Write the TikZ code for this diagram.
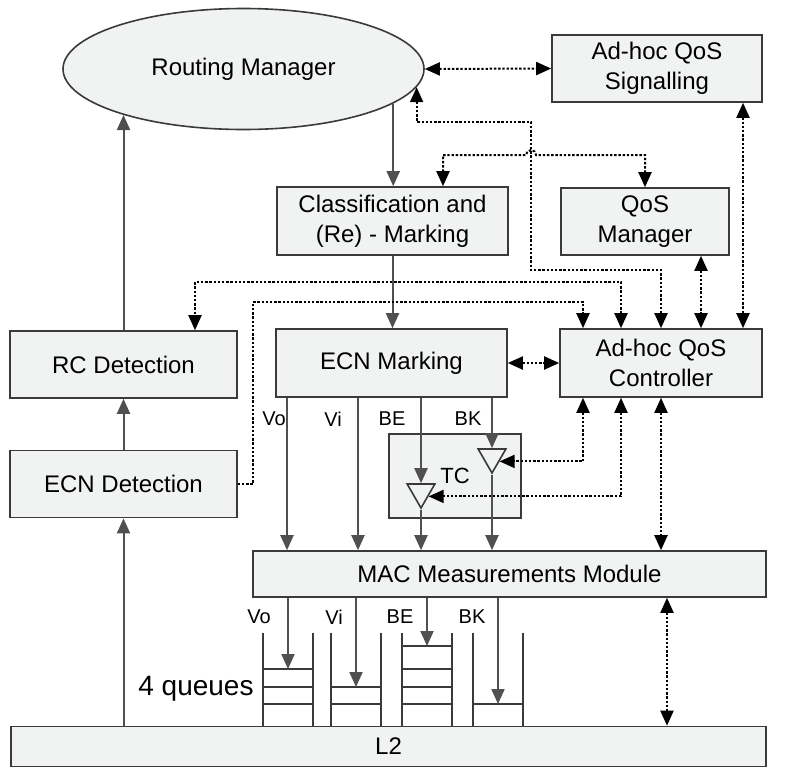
\documentclass[tikz,border=0pt]{standalone}
\usepackage{fontspec}
\setmainfont{Liberation Sans}
\usepackage{tikz}
\usetikzlibrary{positioning}
\usetikzlibrary{shapes.geometric}
\usetikzlibrary{arrows.meta}
\definecolor{boxgray}{HTML}{F1F2F2}
\definecolor{linegray}{HTML}{3A3A3A}
\definecolor{flowgray}{HTML}{505050}
\tikzstyle{block} = [rectangle, minimum height=67pt, text centered, align=center, draw=linegray, fill=boxgray, line width=1.6, inner sep=0pt, font=\fontsize{24}{30}\selectfont]
\tikzstyle{ellipse1} = [ellipse, minimum width=361pt, minimum height=121pt, text centered, draw=linegray, fill=boxgray, line width=1.6, inner sep=0pt, font=\fontsize{24}{30}\selectfont]
\tikzstyle{shaper} = [regular polygon, regular polygon sides=3, shape border rotate=180, minimum size=32pt, inner sep=0pt, draw=linegray, fill=boxgray, line width=1.6]
\tikzstyle{qlabel} = [font=\fontsize{20}{24}\selectfont, inner sep=0pt]
\tikzstyle{flow} = [->, draw=flowgray, line width=2]
\tikzstyle{ctrl} = [draw=black, line width=2, dash pattern=on 2.4pt off 1.8pt]

\begin{document}
\begin{tikzpicture}[x=1pt, y=-1pt, >={Triangle[length=15pt, width=13pt]}]
	\useasboundingbox (0,0) rectangle (800,774);
	\node[ellipse1](routing) at (243.5,69){Routing Manager};
	\node[block, minimum width=210pt](signalling) at (657,68.5){Ad-hoc QoS\\Signalling};
	\node[block, minimum width=231pt, minimum height=68pt](classif) at (392.5,221){Classification and\\(Re) - Marking};
	\node[block, minimum width=168pt](qosman) at (645,221.5){QoS\\Manager};
	\node[block, minimum width=227pt](rcdet) at (123.5,364.5){RC Detection};
	\node[block, minimum width=227pt, below=51pt of rcdet](ecndet){ECN Detection};
	\node[block, minimum width=231pt, minimum height=68pt](ecnmark) at (391.5,363){ECN Marking};
	\node[block, minimum width=202pt, minimum height=68pt](controller) at (661,363){Ad-hoc QoS\\Controller};
	\node[block, minimum width=132pt, minimum height=84pt, font=\fontsize{22}{26}\selectfont](tc) at (455,476){TC};
	\node[shaper](betri) at (421,492){};
	\node[shaper](bktri) at (492,457){};
	\node[block, minimum width=513pt, minimum height=46pt](mac) at (509.5,574){MAC Measurements Module};
	\node[block, minimum width=755pt, minimum height=40pt](l2) at (388.5,746.5){L2};
	\node[font=\fontsize{28}{32}\selectfont, inner sep=0pt](queues) at (196,689){4 queues};

	\foreach \lx/\ltxt in {274/Vo, 333/Vi, 392/BE, 468/BK}
		\node[qlabel](in\ltxt) at (\lx,419){\ltxt};
	\foreach \lx/\ltxt in {259/Vo, 334/Vi, 400/BE, 472/BK}
		\node[qlabel](out\ltxt) at (\lx,617){\ltxt};

	\coordinate (vo) at (287,0);
	\coordinate (vi) at (358,0);
	\coordinate (c1) at (583,0);
	\coordinate (c2) at (621,0);
	\coordinate (c3) at (661,0);
	\coordinate (c4) at (701,0);
	\coordinate (c5) at (743,0);
	\coordinate (c6) at (667,0);
	\coordinate (cm) at (443,0);
	\coordinate (rc) at (195,282);

	\foreach \qx/\qtop/\levels/\n in {263/669/{669,687,704}/vo, 331/687/{687,704}/vi, 402/646/{646,669,687,704}/be, 473/704/{704}/bk}{
		\draw[linegray, line width=1.6] (\qx,633) -- (\qx,727) (\qx+50,633) -- (\qx+50,727);
		\foreach \ly in \levels
			\draw[linegray, line width=1.6] (\qx,\ly) -- (\qx+50,\ly);
		\coordinate (q\n) at (\qx+25,\qtop);
		\draw[flow] (mac.south -| q\n) -- (q\n);
	}

	\draw[flow] (rcdet.north) -- (rcdet.north |- routing.201);
	\draw[flow] (ecndet.north) -- (rcdet.south);
	\draw[flow] (l2.north -| ecndet) -- (ecndet.south);
	\draw[flow] (routing.347) -- (routing.347 |- classif.north);
	\draw[flow] (classif.south) -- (classif.south |- ecnmark.north);
	\draw[flow] (ecnmark.south -| vo) -- (mac.north -| vo);
	\draw[flow] (ecnmark.south -| vi) -- (mac.north -| vi);
	\draw[flow] (ecnmark.south -| betri) -- (betri.north);
	\draw[flow] (betri.south) -- (betri.south |- mac.north);
	\draw[flow] (ecnmark.south -| bktri) -- (bktri.north);
	\draw[flow] (bktri.south) -- (bktri.south |- mac.north);

	\draw[ctrl, <->] (routing.east) -- (signalling.west);
	\draw[ctrl, <->] (signalling.south -| c5) -- (controller.north -| c5);
	\draw[ctrl, <->] (qosman.south -| c4) -- (controller.north -| c4);
	\draw[ctrl, <->] (routing.354) |- (531,122) |- (661,270) -- (controller.north -| c3);
	\draw[ctrl, <->] (classif.north -| cm) |- (526,155) arc[start angle=180, end angle=360, radius=5] -| (qosman.north);
	\draw[ctrl, <->] (controller.north -| c2) |- (rc) -- (rcdet.north -| rc);
	\draw[ctrl, ->] (ecndet.east) -| (253,302) -| (controller.north -| c1);
	\draw[ctrl, <->] (ecnmark.east) -- (controller.west);
	\draw[ctrl, <->] (controller.south -| c1) |- (bktri.side 1);
	\draw[ctrl, <->] (controller.south -| c2) |- (betri.side 1);
	\draw[ctrl, <->] (controller.south -| c3) -- (mac.north -| c3);
	\draw[ctrl, <->] (mac.south -| c6) -- (l2.north -| c6);
\end{tikzpicture}
\end{document}
